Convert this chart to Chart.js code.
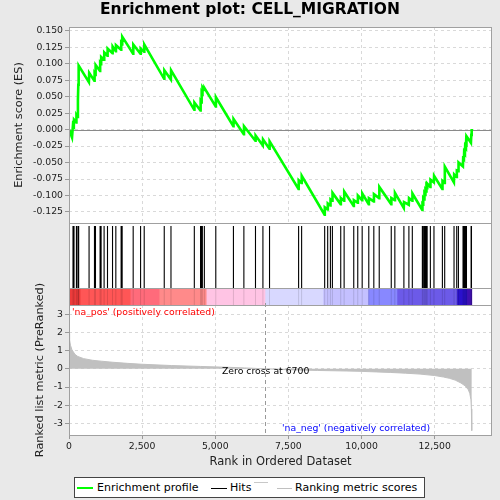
<!DOCTYPE html>
<html><head><meta charset="utf-8">
<script src="https://cdn.jsdelivr.net/npm/chart.js@4.4.1/dist/chart.umd.min.js"></script>
<style>
html,body{margin:0;padding:0;background:#e9e9e9;}
#wrap{position:relative;width:500px;height:500px;overflow:hidden;background:#e9e9e9;font-family:"DejaVu Sans",sans-serif;}
canvas{position:absolute;left:0;top:0;width:500px;height:500px;}
.t{position:absolute;white-space:nowrap;line-height:1;}
.ln{position:absolute;}
</style></head><body>
<div id="wrap">
<canvas id="cBar" width="500" height="500"></canvas>
<canvas id="cMetric" width="500" height="500"></canvas>
<canvas id="cHits" width="500" height="500"></canvas>
<canvas id="cES" width="500" height="500"></canvas>
<div class="t" style="left:0;width:500px;text-align:center;top:2px;font-size:15.5px;font-weight:bold;color:#000;">Enrichment plot: CELL_MIGRATION</div>
<div class="t" style="left:72px;top:307px;font-size:9.3px;color:#ff0000;">'na_pos' (positively correlated)</div>
<div class="t" style="left:222px;top:366px;font-size:9.3px;color:#000;">Zero cross at 6700</div>
<div class="t" style="left:282px;top:423px;font-size:9.3px;color:#0000ff;">'na_neg' (negatively correlated)</div>
<div style="position:absolute;left:74px;top:477px;width:351px;height:21px;border:1px solid #444;background:#fff;box-sizing:border-box;"></div>
<div class="ln" style="left:77px;top:486.5px;width:16px;height:2.4px;background:#00ff00;"></div>
<div class="t" style="left:97px;top:482px;font-size:11px;color:#000;">Enrichment profile</div>
<div class="ln" style="left:211px;top:487.5px;width:16px;height:1px;background:#000;"></div>
<div class="t" style="left:230px;top:482px;font-size:11px;color:#000;">Hits</div>
<div class="ln" style="left:254px;top:482px;width:14px;height:1px;background:#c8c8c8;"></div>
<div class="ln" style="left:277px;top:487.5px;width:15px;height:1.2px;background:#c0c0c0;"></div>
<div class="t" style="left:295px;top:482px;font-size:11px;color:#000;">Ranking metric scores</div>
</div>
<script>
// ---------------- data ----------------
const X_MAX = 14460;
const xTickValues = [0, 2500, 5000, 7500, 10000, 12500];
const xTickLabels = ['0','2,500','5,000','7,500','10,000','12,500'];
const esTickValues = [0.150,0.125,0.100,0.075,0.050,0.025,0.000,-0.025,-0.050,-0.075,-0.100,-0.125];
const esTickLabels = ['0.150','0.125','0.100','0.075','0.050','0.025','0.000','-0.025','-0.050','-0.075','-0.100','-0.125'];
const metricTickValues = [3,2,1,0,-1,-2,-3];
const metricTickLabels = ['3','2','1','0','-1','-2','-3'];

const esRanks = [0,103,137,165,171,250,254,296,305,318,330,680,690,865,875,900,910,1060,1065,1095,1100,1198,1205,1313,1320,1485,1492,1598,1605,1779,1786,1814,1820,2190,2198,2443,2450,2567,2575,3252,3260,3482,3490,4280,4288,4493,4500,4527,4535,4555,4563,4623,4631,5014,5022,5617,5625,5974,5982,6371,6379,6625,6633,6851,6859,7845,7853,7948,7956,8736,8744,8839,8847,8932,8940,9000,9008,9285,9293,9401,9409,9730,9738,9867,9875,10018,10026,10244,10252,10416,10424,10601,10609,11012,11020,11135,11143,11444,11452,11615,11623,11732,11740,12075,12083,12102,12110,12143,12151,12177,12185,12212,12220,12239,12247,12349,12357,12472,12480,12760,12768,12839,12847,13158,13166,13250,13258,13308,13316,13466,13474,13500,13508,13535,13543,13569,13577,13583,13591,13740,13752,13765];
const esValues = [0.000,-0.012,0.008,0.006,0.015,0.011,0.022,0.019,0.045,0.068,0.097,0.072,0.086,0.074,0.085,0.083,0.098,0.089,0.101,0.099,0.110,0.106,0.117,0.112,0.123,0.116,0.126,0.119,0.128,0.121,0.131,0.129,0.141,0.115,0.129,0.115,0.123,0.118,0.129,0.077,0.090,0.076,0.090,0.030,0.041,0.029,0.043,0.041,0.055,0.053,0.064,0.060,0.063,0.035,0.049,0.005,0.016,-0.007,0.005,-0.017,-0.009,-0.024,-0.015,-0.029,-0.018,-0.090,-0.077,-0.081,-0.070,-0.129,-0.118,-0.121,-0.112,-0.115,-0.106,-0.108,-0.096,-0.113,-0.104,-0.108,-0.094,-0.116,-0.107,-0.111,-0.100,-0.107,-0.097,-0.113,-0.104,-0.109,-0.098,-0.104,-0.087,-0.113,-0.104,-0.107,-0.096,-0.119,-0.110,-0.114,-0.104,-0.108,-0.097,-0.122,-0.113,-0.114,-0.104,-0.106,-0.097,-0.099,-0.092,-0.094,-0.087,-0.089,-0.082,-0.087,-0.076,-0.080,-0.070,-0.090,-0.078,-0.081,-0.056,-0.080,-0.068,-0.072,-0.062,-0.063,-0.050,-0.056,-0.044,-0.045,-0.034,-0.036,-0.025,-0.027,-0.017,-0.018,-0.010,-0.020,-0.008,0.001];

const hitRanks = [137,171,254,305,318,330,686,871,905,1063,1097,1200,1316,1488,1601,1782,1817,2194,2447,2571,3256,3486,4284,4497,4531,4559,4627,5018,5621,5978,6375,6629,6855,7849,7952,8740,8843,8936,9004,9289,9405,9734,9871,10022,10248,10420,10605,11016,11139,11448,11619,11736,12079,12106,12147,12181,12216,12243,12353,12476,12764,12843,13162,13254,13312,13470,13504,13539,13573,13587,13746,13758];

const metricRanks = [0,20,50,100,200,300,500,800,1100,1500,2000,2500,3500,4500,5500,6000,6700,7500,8500,9500,10000,10500,11000,11500,12000,12500,12800,13000,13200,13400,13550,13650,13700,13740,13755,13765,13770];
const metricValues = [1.95,1.6,1.3,1.05,0.8,0.68,0.56,0.47,0.42,0.36,0.30,0.25,0.18,0.13,0.08,0.05,0.0,-0.05,-0.09,-0.12,-0.14,-0.17,-0.20,-0.24,-0.29,-0.37,-0.45,-0.52,-0.62,-0.78,-0.95,-1.15,-1.35,-1.7,-2.2,-3.4,-3.4];

const bandStarts = [0,380,2090,3080,4690,6700,8680,10220,11210,13260,13600];
const bandEnds   = [380,2090,3080,4690,6700,8680,10220,11210,13260,13600,13770];
const bandColors = ['#ee3b3b','#ff5656','#ff6b7b','#ff8a8a','#ffc4e4','#d8d8ff','#c4c0ff','#8888ff','#6c5ae8','#2a10cc','#4010b0'];

const ZERO_CROSS = 6700;

// ---------------- helpers ----------------
const FONT = '"DejaVu Sans", sans-serif';
const GRID = '#d9d9d9';
const BORDER = '#a0a0a0';
const fixW = s => { s.width = 69; };
const setTicks = vals => (s => { s.ticks = vals.map(v => ({ value: v })); });

function panel(fillFn) {
  return {
    id: 'panel',
    beforeDraw(chart) {
      const a = chart.chartArea, c = chart.ctx;
      c.save(); c.fillStyle = '#fff';
      const b = fillFn ? fillFn(chart) : a.bottom;
      c.fillRect(a.left, a.top, a.right - a.left, b - a.top);
      c.restore();
    },
    afterDraw(chart) {
      const a = chart.chartArea, c = chart.ctx;
      const b = fillFn ? fillFn(chart) : a.bottom;
      c.save(); c.strokeStyle = BORDER; c.lineWidth = 1;
      c.strokeRect(Math.round(a.left) + 0.5, Math.round(a.top) + 0.5, Math.round(a.right - a.left) - 1, Math.round(b - a.top));
      c.restore();
    }
  };
}

const common = {
  responsive: false, animation: false, devicePixelRatio: 1,
  plugins: { legend: { display: false }, tooltip: { enabled: false } },
  events: []
};

// ---------------- ES chart ----------------
new Chart(document.getElementById('cES'), {
  type: 'line',
  data: { datasets: [{
    data: esRanks.map((r, i) => ({ x: r, y: esValues[i] })),
    borderColor: '#00ff00', borderWidth: 2.6, pointRadius: 0, tension: 0, fill: false
  }]},
  options: Object.assign({}, common, {
    layout: { autoPadding: false, padding: { left: 0, top: 27, right: 8, bottom: 277 } },
    scales: {
      x: { type: 'linear', min: 0, max: X_MAX, afterFit: s => { s.height = 0; },
           afterBuildTicks: setTicks(xTickValues),
           ticks: { display: false },
           grid: { color: GRID, drawTicks: false }, border: { display: false, dash: [3, 3] } },
      y: { type: 'linear', min: -0.1417, max: 0.1556, afterFit: fixW,
           afterBuildTicks: setTicks(esTickValues),
           ticks: { color: '#222', padding: 2, autoSkip: false,
                    font: { family: FONT, size: 9.3 },
                    callback: (v, i) => esTickLabels[i] },
           grid: { color: GRID, tickLength: 4, tickColor: '#999' },
           border: { display: false, dash: [3, 3] },
           title: { display: true, text: 'Enrichment score (ES)', color: '#222',
                    font: { family: FONT, size: 11.3 }, padding: { top: 12.5 } } }
    }
  }),
  plugins: [panel(), {
    id: 'zero',
    beforeDatasetsDraw(chart) {
      const a = chart.chartArea, c = chart.ctx;
      const y = Math.round(chart.scales.y.getPixelForValue(0)) + 0.5;
      c.save(); c.strokeStyle = '#8a8a8a'; c.lineWidth = 1;
      c.beginPath(); c.moveTo(a.left, y); c.lineTo(a.right, y); c.stroke(); c.restore();
    }
  }]
});

// ---------------- Hits chart ----------------
const hitPts = [];
hitRanks.forEach(r => { hitPts.push({ x: r, y: 0 }, { x: r, y: 0.954 }, { x: r, y: null }); });
const stripePts = [];
hitRanks.forEach(r => { stripePts.push({ x: r, y: -0.2615 }, { x: r, y: 0 }, { x: r, y: null }); });
new Chart(document.getElementById('cHits'), {
  type: 'line',
  data: { datasets: [
    { data: hitPts, borderColor: '#000', borderWidth: 1.1, pointRadius: 0, spanGaps: false, fill: false },
    { data: stripePts, borderColor: 'rgba(0,0,0,0.13)', borderWidth: 1, pointRadius: 0, spanGaps: false, fill: false }
  ]},
  options: Object.assign({}, common, {
    layout: { autoPadding: false, padding: { left: 69, top: 223, right: 8, bottom: 195 } },
    scales: {
      x: { type: 'linear', min: 0, max: X_MAX, display: false },
      y: { type: 'linear', min: -0.2615, max: 1, display: false }
    }
  }),
  plugins: [panel(ch => ch.scales.y.getPixelForValue(0))]
});

// ---------------- Colour bar ----------------
new Chart(document.getElementById('cBar'), {
  type: 'bar',
  data: { labels: ['b'], datasets: bandStarts.map((s, i) => ({
    data: [[s, bandEnds[i]]], backgroundColor: bandColors[i], borderWidth: 0,
    grouped: false, barPercentage: 1, categoryPercentage: 1
  }))},
  options: Object.assign({}, common, {
    indexAxis: 'y',
    layout: { autoPadding: false, padding: { left: 69, top: 288, right: 8, bottom: 195 } },
    scales: {
      x: { type: 'linear', min: 0, max: X_MAX, display: false },
      y: { type: 'category', display: false }
    }
  }),
  plugins: [panel()]
});

// ---------------- Metric chart ----------------
new Chart(document.getElementById('cMetric'), {
  type: 'line',
  data: { datasets: [{
    data: metricRanks.map((r, i) => ({ x: r, y: metricValues[i] })),
    borderColor: '#c0c0c0', borderWidth: 1, backgroundColor: '#c0c0c0',
    fill: 'origin', pointRadius: 0, tension: 0
  }]},
  options: Object.assign({}, common, {
    layout: { autoPadding: false, padding: { left: 0, top: 305, right: 8, bottom: 30 } },
    scales: {
      x: { type: 'linear', min: 0, max: X_MAX, afterFit: s => { s.height = 35; },
           afterBuildTicks: setTicks(xTickValues),
           ticks: { color: '#222', padding: 2, maxRotation: 0, autoSkip: false,
                    font: { family: FONT, size: 9.3 },
                    callback: (v, i) => xTickLabels[i] },
           grid: { color: GRID, tickLength: 4, tickColor: '#999' },
           border: { display: false, dash: [3, 3] },
           title: { display: true, text: 'Rank in Ordered Dataset', color: '#222',
                    font: { family: FONT, size: 11.5 }, padding: { top: 0, bottom: 1.5 } } },
      y: { type: 'linear', min: -3.64, max: 3.51, afterFit: fixW,
           afterBuildTicks: setTicks(metricTickValues),
           ticks: { color: '#222', padding: 2, autoSkip: false,
                    font: { family: FONT, size: 9.3 },
                    callback: (v, i) => metricTickLabels[i] },
           grid: { color: GRID, tickLength: 4, tickColor: '#999' },
           border: { display: false, dash: [3, 3] },
           title: { display: true, text: 'Ranked list metric (PreRanked)', color: '#222',
                    font: { family: FONT, size: 11.3 }, padding: { top: 33.5 } } }
    }
  }),
  plugins: [panel(), {
    id: 'zc',
    afterDatasetsDraw(chart) {
      const a = chart.chartArea, c = chart.ctx;
      const x = Math.round(chart.scales.x.getPixelForValue(ZERO_CROSS)) + 0.5;
      c.save(); c.strokeStyle = '#999'; c.lineWidth = 1; c.setLineDash([4, 3]);
      c.beginPath(); c.moveTo(x, a.top - 2); c.lineTo(x, a.bottom); c.stroke(); c.restore();
    }
  }]
});
</script>
</body></html>
